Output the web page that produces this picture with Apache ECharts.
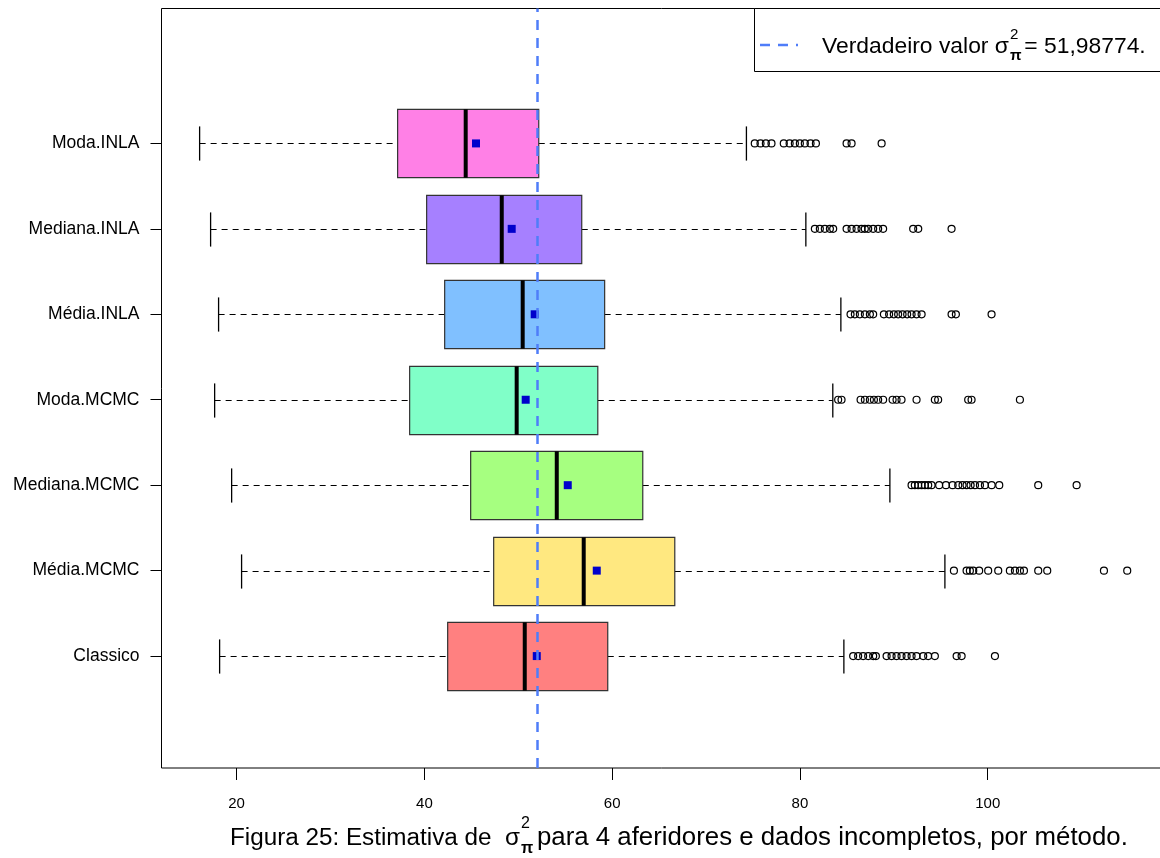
<!DOCTYPE html>
<html><head><meta charset="utf-8">
<script src="https://cdn.jsdelivr.net/npm/echarts@6/dist/echarts.min.js"></script>
<style>html,body{margin:0;padding:0;background:#fff}#c{width:1160px;height:858px}</style>
</head><body><div id="c"></div>
<script>
const categories = ['Classico','Média.MCMC','Mediana.MCMC','Moda.MCMC','Média.INLA','Mediana.INLA','Moda.INLA'];
const boxColors = ['#FF8080','#FFE880','#A6FF80','#80FFC8','#80C0FF','#A680FF','#FF80E6'];
// [low whisker, q1, median, q3, high whisker]
const boxStats = [
  [18.19, 42.48, 50.69, 59.53, 84.68],
  [20.53, 47.38, 56.97, 66.67, 95.44],
  [19.47, 44.93, 54.10, 63.26, 89.58],
  [17.66, 38.43, 49.83, 58.47, 83.50],
  [18.08, 42.16, 50.47, 59.20, 84.36],
  [17.23, 40.24, 48.24, 56.76, 80.63],
  [16.06, 37.15, 44.40, 52.18, 74.30]
];
const means = [51.97, 58.36, 55.27, 50.79, 51.75, 49.30, 45.50];
const outClassico = [85.67, 86.2, 86.73, 87.27, 87.8, 88.09, 89.23, 89.76, 90.29, 90.82, 91.36, 91.89, 92.42, 93.13, 93.66, 94.37, 96.69, 97.22, 100.77];
const outMediaMCMC = [96.4, 97.75, 98.1, 98.46, 99.09, 100.05, 101.12, 102.36, 102.9, 103.43, 103.86, 105.38, 106.34, 112.38, 114.86];
const outMedianaMCMC = [91.89, 92.24, 92.6, 92.96, 93.31, 93.66, 94.02, 94.83, 95.55, 96.26, 96.86, 97.32, 97.75, 98.18, 98.64, 99.17, 99.7, 100.42, 101.23, 105.38, 109.47];
const outModaMCMC = [84.07, 84.43, 86.46, 86.92, 87.45, 87.88, 88.33, 88.86, 89.87, 90.29, 90.82, 92.42, 94.37, 94.72, 97.92, 98.28, 103.43];
const outMediaINLA = [85.39, 85.85, 86.38, 86.92, 87.45, 87.8, 88.94, 89.5, 90.0, 90.46, 90.93, 91.42, 91.89, 92.42, 92.96, 96.15, 96.61, 100.41];
const outMedianaINLA = [81.59, 82.12, 82.65, 83.19, 83.54, 84.97, 85.5, 86.03, 86.56, 86.91, 87.27, 87.8, 88.33, 88.86, 92.06, 92.6, 96.15];
const outModaINLA = [75.19, 75.8, 76.37, 76.97, 78.28, 78.9, 79.46, 79.99, 80.52, 81.13, 81.7, 84.97, 85.5, 88.7];
const outliers = [outClassico, outMediaMCMC, outMedianaMCMC, outModaMCMC, outMediaINLA, outMedianaINLA, outModaINLA];
const trueValue = 51.98774;
const xTicks = [20, 40, 60, 80, 100];
const legendPrefix = 'Verdadeiro valor σ';
const legendSuffix = '= 51,98774.';
const captionPrefix = 'Figura 25: Estimativa de  σ';
const captionSuffix = 'para 4 aferidores e dados incompletos, por método.';

const FONT = '"Liberation Sans", Arial, sans-serif';
const mctx = document.createElement('canvas').getContext('2d');
function tw(s, size) { mctx.font = size + 'px ' + FONT; return mctx.measureText(s).width; }

const positions = categories.map((c, i) => i + 1);
const boxData = boxStats.map((s, i) => [positions[i]].concat(s));
const meanData = means.map((m, i) => [m, positions[i]]);
const outData = [];
outliers.forEach((arr, i) => arr.forEach(v => outData.push([v, positions[i]])));

function renderBox(params, api) {
  const pos = api.value(0);
  const lo = api.value(1), q1 = api.value(2), med = api.value(3), q3 = api.value(4), hi = api.value(5);
  const unit = api.size([0, 1])[1];
  const bh = unit * 0.8, ch = unit * 0.4;
  const pLo = api.coord([lo, pos]), pQ1 = api.coord([q1, pos]), pMed = api.coord([med, pos]);
  const pQ3 = api.coord([q3, pos]), pHi = api.coord([hi, pos]);
  const y = Math.round(pLo[1]) + 0.5;
  const dash = { stroke: '#000', lineWidth: 1.2, lineDash: [6, 5] };
  const solid = { stroke: '#000', lineWidth: 1.3 };
  return { type: 'group', children: [
    { type: 'line', shape: { x1: pLo[0], y1: y, x2: pQ1[0], y2: y }, style: dash },
    { type: 'line', shape: { x1: pQ3[0], y1: y, x2: pHi[0], y2: y }, style: dash },
    { type: 'line', shape: { x1: pLo[0], y1: y - ch / 2, x2: pLo[0], y2: y + ch / 2 }, style: solid },
    { type: 'line', shape: { x1: pHi[0], y1: y - ch / 2, x2: pHi[0], y2: y + ch / 2 }, style: solid },
    { type: 'rect', shape: { x: pQ1[0], y: y - bh / 2, width: pQ3[0] - pQ1[0], height: bh },
      style: { fill: boxColors[params.dataIndex], stroke: '#333', lineWidth: 1.2 } },
    { type: 'line', shape: { x1: pMed[0], y1: y - bh / 2, x2: pMed[0], y2: y + bh / 2 },
      style: { stroke: '#000', lineWidth: 4 } }
  ]};
}

// text layout for legend and caption (stacked super/subscript)
const legSize = 187 / tw(legendPrefix, 1);
const legX = 822, legMid = 47;
const legW = tw(legendPrefix, legSize);
const legSmall = legSize * 0.66;
const legCol = Math.max(tw('2', legSmall), tw('π', legSmall));
const capX = 230, capMid = 838;
const capSize = 290 / tw(captionPrefix, 1);
const capW = tw(captionPrefix, capSize);
const capSmall = capSize * 0.66;
const capCol = Math.max(tw('2', capSmall), tw('π', capSmall));
const capSufX = 537;
const capSufSize = (1128 - capSufX) / tw(captionSuffix, 1);

function txt(x, y, s, size, extra) {
  return { type: 'text', x: x, y: y, z: 100,
    style: Object.assign({ text: s, font: size + 'px ' + FONT, fill: '#000', align: 'left', verticalAlign: 'middle' }, extra || {}) };
}

const graphics = [
  { type: 'rect', z: 90, shape: { x: 754.5, y: 8.5, width: 500, height: 63 }, style: { fill: '#fff', stroke: '#000', lineWidth: 1 } },
  { type: 'line', z: 95, shape: { x1: 760, y1: 45, x2: 798, y2: 45 }, style: { stroke: '#4F7DF9', lineWidth: 2.5, lineDash: [10, 8] } },
  txt(legX, legMid, legendPrefix, legSize),
  txt(legX + legW + 1, 35, '2', legSmall),
  txt(legX + legW + 1, 56, 'π', legSmall, { font: 'bold ' + legSmall + 'px ' + FONT }),
  txt(legX + legW + legCol + 5, legMid, legendSuffix, legSize),
  txt(capX, capMid, captionPrefix, capSize),
  txt(capX + capW + 1, capMid - 14, '2', capSmall),
  txt(capX + capW + 1, capMid + 11, 'π', capSmall, { font: 'bold ' + capSmall + 'px ' + FONT }),
  txt(capSufX, capMid, captionSuffix, capSufSize)
];

const chart = echarts.init(document.getElementById('c'), null, { renderer: 'canvas' });
chart.setOption({
  animation: false,
  backgroundColor: '#fff',
  grid: { left: 161.5, top: 8.5, width: 1004.6, height: 759.5, outerBoundsMode: 'none', containLabel: false,
    show: true, borderColor: '#000', borderWidth: 1, backgroundColor: 'transparent' },
  xAxis: {
    type: 'value', min: 12, max: 119,
    axisLine: { show: false, onZero: false },
    splitLine: { show: false },
    axisTick: { show: true, length: 12, inside: false, customValues: xTicks, lineStyle: { color: '#000', width: 1 } },
    axisLabel: { show: true, customValues: xTicks, margin: 28, fontSize: 15, color: '#000', fontFamily: FONT }
  },
  yAxis: {
    type: 'value', min: -0.31, max: 8.579,
    axisLine: { show: false, onZero: false },
    splitLine: { show: false },
    axisTick: { show: true, length: 11, customValues: positions, lineStyle: { color: '#000', width: 1 } },
    axisLabel: { show: true, customValues: positions, margin: 22, fontSize: 17.5, color: '#000', fontFamily: FONT,
      formatter: v => categories[Math.round(v) - 1] }
  },
  graphic: graphics,
  series: [
    { type: 'custom', z: 2, renderItem: renderBox, data: boxData, encode: { x: [1, 2, 3, 4, 5], y: 0 }, silent: true },
    { type: 'line', z: 3, data: [], silent: true,
      markLine: { silent: true, symbol: ['none', 'none'], label: { show: false },
        lineStyle: { color: '#4F7DF9', width: 2.5, type: [10, 8] }, data: [{ xAxis: trueValue }] } },
    { type: 'scatter', z: 4, data: meanData, symbol: 'rect', symbolSize: 8, itemStyle: { color: '#0000CC', opacity: 1 }, silent: true },
    { type: 'scatter', z: 4, data: outData, symbol: 'circle', symbolSize: 7,
      itemStyle: { color: 'rgba(0,0,0,0)', borderColor: '#000', borderWidth: 1.2, opacity: 1 }, silent: true }
  ]
});
</script></body></html>
